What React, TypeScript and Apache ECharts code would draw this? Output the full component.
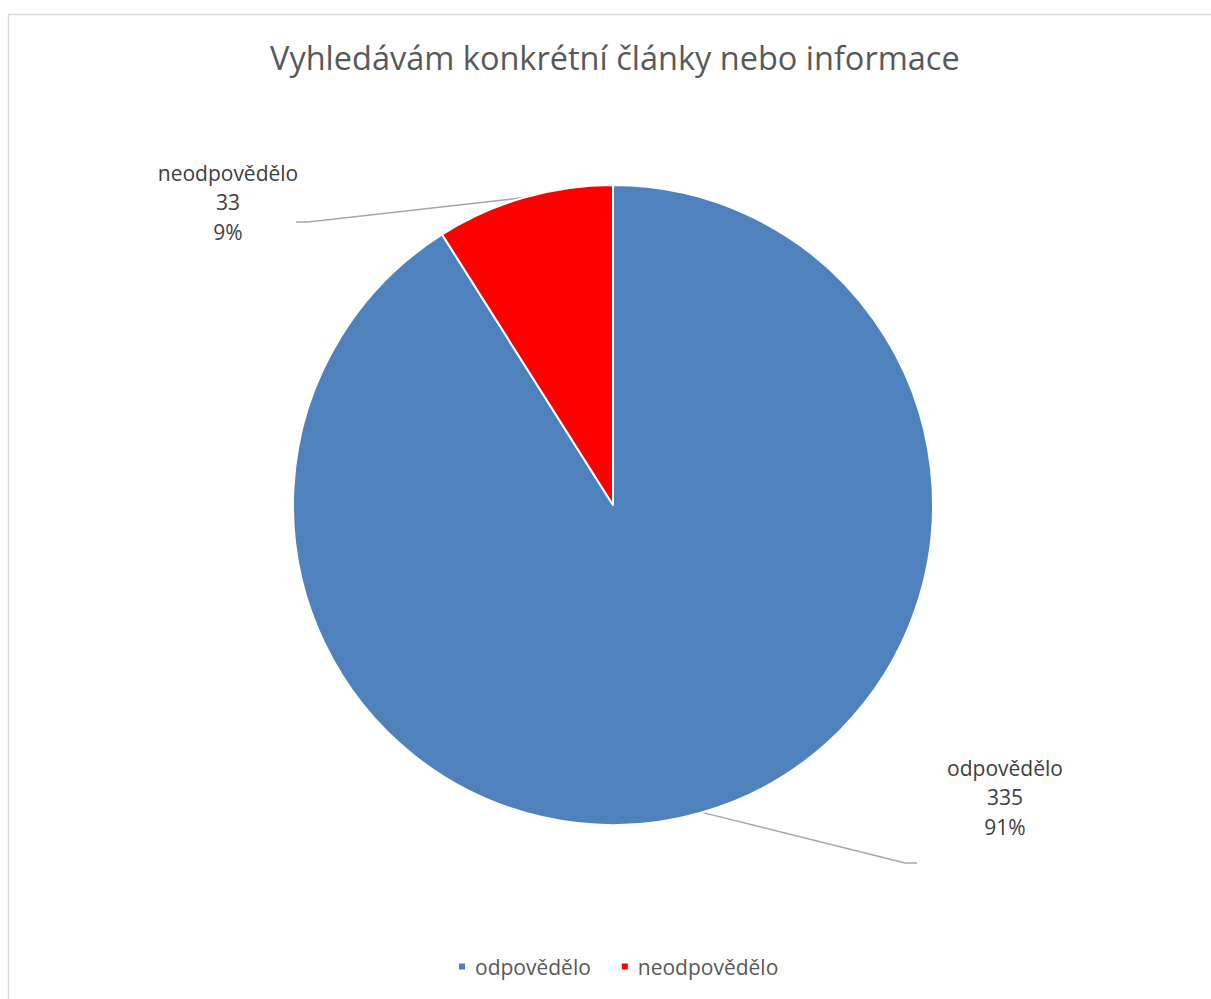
import React, { useEffect, useRef } from "react";
import * as echarts from "echarts";

const TITLE = "Vyhledávám konkrétní články nebo informace";
const categories = ["odpovědělo", "neodpovědělo"];
const values = [335, 33];
const colors = ["#4f81bd", "#ff0000"];

const FONT = "'Open Sans', 'Noto Sans', sans-serif";

export default function App() {
  const ref = useRef<HTMLDivElement>(null);
  useEffect(() => {
    if (!ref.current) return;
    const chart = echarts.init(ref.current, null, { renderer: "svg" });
    const cx = 613;
    const cy = 505;
    const r = 320;
    const total = values.reduce((a, b) => a + b, 0);
    const mids: number[] = [];
    let acc = 0;
    values.forEach((v) => {
      const a0 = (acc / total) * 360;
      acc += v;
      const a1 = (acc / total) * 360;
      mids.push((a0 + a1) / 2);
    });
    const edgePoint = (i: number) => {
      const rad = (mids[i] * Math.PI) / 180;
      return [cx + r * Math.sin(rad), cy - r * Math.cos(rad)];
    };
    const labelPos = [
      { x: 1005, y: 797, bend: [905, 863], end: [917, 863] },
      { x: 228, y: 202, bend: [308, 222], end: [296, 222] },
    ];

    chart.setOption({
      animation: false,
      backgroundColor: "#ffffff",
      title: {
        text: TITLE,
        left: 265,
        top: 36,
        textStyle: { fontFamily: FONT, fontSize: 32.5, fontWeight: "normal", color: "#595959" },
      },
      legend: {
        bottom: 17,
        left: 452,
        icon: "rect",
        itemWidth: 8,
        itemHeight: 8,
        itemGap: 29,
        textStyle: { fontFamily: FONT, fontSize: 21, color: "#595959", padding: [0, 0, 0, 4] },
        data: categories,
      },
      graphic: [
        {
          type: "rect",
          shape: { x: 8.5, y: 14.5, width: 1400, height: 1200 },
          style: { fill: "none", stroke: "#d9d9d9", lineWidth: 1.5 },
          silent: true,
        },
      ],
      series: [
        {
          type: "pie",
          center: [cx, cy],
          radius: [0, r],
          startAngle: 90,
          clockwise: true,
          percentPrecision: 0,
          itemStyle: { borderColor: "#ffffff", borderWidth: 2 },
          label: {
            show: true,
            position: "outside",
            formatter: "{b}\n{c}\n{d}%",
            fontFamily: FONT,
            fontSize: 21,
            lineHeight: 29.5,
            color: "#404040",
          },
          labelLine: { show: true, lineStyle: { color: "#a6a6a6", width: 1.5 } },
          labelLayout: (params: any) => {
            const i = params.dataIndex;
            const p = labelPos[i];
            return {
              x: p.x,
              y: p.y,
              align: "center",
              verticalAlign: "middle",
              labelLinePoints: [edgePoint(i), p.bend, p.end],
            };
          },
          data: categories.map((name, i) => ({
            name,
            value: values[i],
            itemStyle: { color: colors[i] },
          })),
        },
      ],
    });
    return () => chart.dispose();
  }, []);
  return (
    <div
      ref={ref}
      style={{ position: "fixed", left: 0, top: 0, width: 1211, height: 999 }}
    />
  );
}
